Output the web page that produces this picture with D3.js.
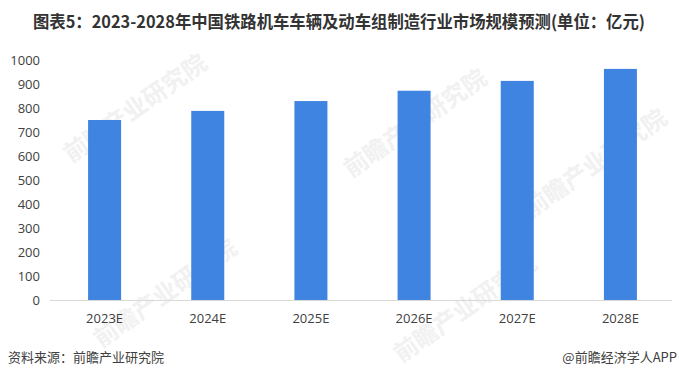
<!DOCTYPE html>
<html>
<head>
<meta charset="utf-8">
<script src="https://cdn.jsdelivr.net/npm/d3@7"></script>
<style>
  body { margin: 0; background: #fff; }
  text { font-family: "Noto Sans CJK SC", "Noto Sans", sans-serif; }
</style>
</head>
<body>
<script>
// chart values
var years = ["2023E", "2024E", "2025E", "2026E", "2027E", "2028E"];
var marketSize = [752, 790, 831, 874, 915, 965]; // 亿元
var yTicks = [0, 100, 200, 300, 400, 500, 600, 700, 800, 900, 1000];

var titleText = "图表5：2023-2028年中国铁路机车车辆及动车组制造行业市场规模预测(单位：亿元)";
var sourceText = "资料来源：前瞻产业研究院";
var brandText = "@前瞻经济学人APP";

var W = 679, H = 379;

var svg = d3.select("body").append("svg")
    .attr("width", W)
    .attr("height", H);

svg.append("rect").attr("width", W).attr("height", H).attr("fill", "#fff");

// faint watermarks
var marks = [[140, 115], [420, 130], [600, 170], [170, 300], [470, 315]];
marks.forEach(function(m) {
  svg.append("text")
    .attr("transform", "translate(" + m[0] + "," + m[1] + ") rotate(-35)")
    .attr("text-anchor", "middle")
    .attr("font-size", 24)
    .attr("font-weight", "bold")
    .attr("fill", "#f1f1f1")
    .text("前瞻产业研究院");
});

var data = years.map(function(y, i) { return { year: y, value: marketSize[i] }; });

var x = d3.scaleBand()
    .domain(years)
    .range([53, 672])
    .paddingInner(0.68)
    .paddingOuter(0.34);

var y = d3.scaleLinear()
    .domain([0, 1000])
    .range([300.5, 60.5]);

// bars
svg.selectAll(".bar").data(data)
  .enter().append("rect")
  .attr("class", "bar")
  .attr("x", function(d) { return x(d.year); })
  .attr("width", x.bandwidth())
  .attr("y", function(d) { return y(d.value); })
  .attr("height", function(d) { return y(0) - y(d.value); })
  .attr("fill", "#3f84e0");

// y axis (labels only)
var yAxis = svg.append("g")
    .attr("transform", "translate(40,0)")
    .call(d3.axisLeft(y).tickValues(yTicks).tickFormat(d3.format("d")).tickSize(0).tickPadding(0));
yAxis.select(".domain").remove();
yAxis.selectAll("text")
    .attr("font-size", 13)
    .attr("fill", "#404040")
    .style("font-family", "'Open Sans', 'Noto Sans', sans-serif");

// x axis
var xAxis = svg.append("g")
    .attr("transform", "translate(0," + y(0) + ")")
    .call(d3.axisBottom(x).tickSize(0).tickPadding(13));
xAxis.select(".domain")
    .attr("stroke", "#d9d9d9")
    .attr("d", "M50,0H672");
xAxis.selectAll("text")
    .attr("font-size", 13)
    .attr("fill", "#404040")
    .style("font-family", "'Open Sans', 'Noto Sans', sans-serif");

// title
svg.append("text")
    .attr("x", 339)
    .attr("y", 28)
    .attr("text-anchor", "middle")
    .attr("font-size", 17)
    .attr("font-weight", "bold")
    .attr("fill", "#333")
    .attr("textLength", 612)
    .attr("lengthAdjust", "spacingAndGlyphs")
    .text(titleText);

// footer
svg.append("text")
    .attr("x", 8)
    .attr("y", 362)
    .attr("font-size", 13)
    .attr("fill", "#404040")
    .text(sourceText);

svg.append("text")
    .attr("x", 677)
    .attr("y", 362)
    .attr("text-anchor", "end")
    .attr("font-size", 13)
    .attr("fill", "#404040")
    .text(brandText);
</script>
</body>
</html>
